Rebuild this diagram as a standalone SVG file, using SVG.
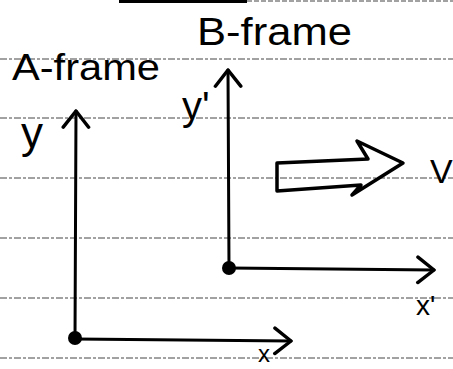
<svg xmlns="http://www.w3.org/2000/svg" width="453" height="369" viewBox="0 0 453 369">
<style>
.rule{stroke:#444;stroke-width:1;stroke-dasharray:7 2 3 2;fill:none}
.ax{stroke:#000;stroke-width:3;fill:none;stroke-linecap:round}
.hw{font-family:"Liberation Sans",Arial,sans-serif;fill:#000}
.big{fill:none;stroke:#000;stroke-width:3.5;stroke-linejoin:round}
</style>
<defs>
<marker id="open" markerUnits="userSpaceOnUse" markerWidth="30" markerHeight="30" viewBox="-16 -13 20 26" refX="0" refY="0" orient="auto">
<path d="M-14,-11 L0,0 L-14,11" fill="none" stroke="#000" stroke-width="3" stroke-linecap="round" stroke-linejoin="round"/>
</marker>
</defs>
<rect width="453" height="369" fill="#fff"/>
<g id="paper">
<rect x="119" y="0" width="128" height="3" fill="#000"/>
<line x1="247" y1="1" x2="453" y2="1" stroke="#444" stroke-width="1" stroke-dasharray="5 2"/>
<line class="rule" x1="0" y1="59" x2="453" y2="59"/>
<line class="rule" x1="0" y1="118" x2="453" y2="118"/>
<line class="rule" x1="0" y1="178" x2="453" y2="178"/>
<line class="rule" x1="0" y1="238" x2="453" y2="238"/>
<line class="rule" x1="0" y1="298" x2="453" y2="298"/>
<line class="rule" x1="0" y1="358" x2="453" y2="358"/>
</g>
<g id="connectors">
<line class="ax" x1="75" y1="338" x2="76" y2="111" marker-end="url(#open)"/>
<line class="ax" x1="75" y1="339" x2="291" y2="341" marker-end="url(#open)"/>
<line class="ax" x1="229" y1="268" x2="228" y2="70" marker-end="url(#open)"/>
<line class="ax" x1="229" y1="268" x2="434" y2="270" marker-end="url(#open)"/>
</g>
<g id="A-frame">
<text class="hw" x="12" y="80" font-size="36" textLength="148" lengthAdjust="spacingAndGlyphs">A-frame</text>
<text class="hw" x="21" y="148" font-size="44">y</text>
<circle cx="75" cy="338" r="7"/>
<text class="hw" x="258" y="362" font-size="24">x</text>
</g>
<g id="B-frame">
<text class="hw" x="197" y="45" font-size="38" textLength="155" lengthAdjust="spacingAndGlyphs">B-frame</text>
<text class="hw" x="182" y="120" font-size="40">y'</text>
<circle cx="229" cy="268" r="7"/>
<text class="hw" x="416" y="315" font-size="28">x'</text>
</g>
<g id="velocity">
<path class="big" d="M277,163 L368,159 L357,141 L403,163 L352,195 L361,185 L277,191 Z"/>
<text class="hw" x="430" y="183" font-size="34">V</text>
</g>
</svg>
